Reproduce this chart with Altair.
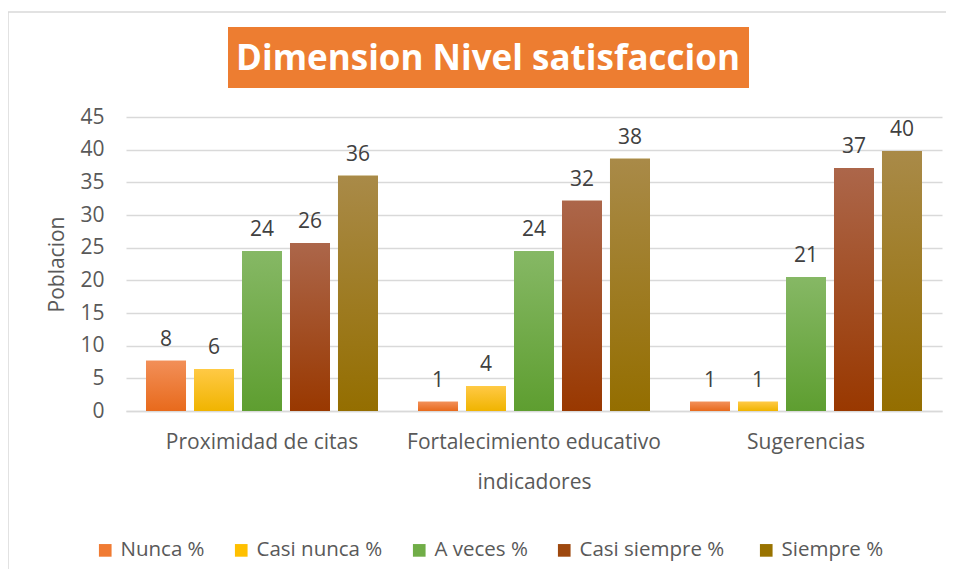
import altair as alt
import pandas as pd

groups = ["Proximidad de citas", "Fortalecimiento educativo", "Sugerencias"]
series = ["Nunca %", "Casi nunca %", "A veces %", "Casi siempre  %", "Siempre  %"]

nunca = [7.7, 1.4, 1.4]
casi_nunca = [6.4, 3.8, 1.4]
a_veces = [24.5, 24.5, 20.5]
casi_siempre = [25.7, 32.2, 37.2]
siempre = [36.0, 38.6, 39.8]

lbl_nunca = [8, 1, 1]
lbl_casi_nunca = [6, 4, 1]
lbl_a_veces = [24, 24, 21]
lbl_casi_siempre = [26, 32, 37]
lbl_siempre = [36, 38, 40]

solid = ["#F07B33", "#FFC000", "#70AD47", "#9E480E", "#997300"]
grad_top = ["#F28F58", "#FFC945", "#86B865", "#AC664A", "#A98A48"]
grad_bot = ["#E86A1C", "#F0B400", "#5E9E30", "#993800", "#946E00"]

vals = [nunca, casi_nunca, a_veces, casi_siempre, siempre]
lbls = [lbl_nunca, lbl_casi_nunca, lbl_a_veces, lbl_casi_siempre, lbl_siempre]

rows = []
for s, v, l in zip(series, vals, lbls):
    for g, vv, ll in zip(groups, v, l):
        rows.append({"grupo": g, "serie": s, "valor": vv, "etiqueta": str(ll)})
df = pd.DataFrame(rows)

FONT = "Open Sans"

x_enc = alt.X(
    "grupo:N",
    sort=groups,
    scale=alt.Scale(paddingInner=0, paddingOuter=0),
    axis=alt.Axis(
        title="indicadores",
        labelAngle=0,
        labelFontSize=21,
        labelColor="#595959",
        labelPadding=20,
        labelLimit=0,
        titleFontSize=21,
        titleFontWeight="normal",
        titleColor="#595959",
        titlePadding=19,
        ticks=False,
        domainColor="#d9d9d9",
        domainWidth=1.5,
        grid=False,
    ),
)
xo_enc = alt.XOffset(
    "serie:N",
    sort=series,
    scale=alt.Scale(domain=series, paddingInner=0.1667, paddingOuter=0.417),
)
y_enc = alt.Y(
    "valor:Q",
    scale=alt.Scale(domain=[0, 45], nice=False),
    axis=alt.Axis(
        title="Poblacion",
        values=[0, 5, 10, 15, 20, 25, 30, 35, 40, 45],
        labelFontSize=21,
        labelColor="#595959",
        labelPadding=22,
        titleFontSize=21,
        titleFontWeight="normal",
        titleColor="#595959",
        titlePadding=12,
        ticks=False,
        domain=False,
        grid=True,
        gridColor="#d9d9d9",
        gridWidth=1.3,
    ),
)

base = alt.Chart(df)

legend_layer = base.mark_bar().encode(
    x=x_enc,
    xOffset=xo_enc,
    y=y_enc,
    color=alt.Color(
        "serie:N",
        sort=series,
        scale=alt.Scale(domain=series, range=solid),
        legend=alt.Legend(
            title=None,
            orient="none",
            legendX=-31,
            legendY=423,
            direction="horizontal",
            symbolType="square",
            symbolSize=160,
            symbolStrokeWidth=0,
            labelFontSize=20.5,
            labelColor="#595959",
            labelOffset=5,
            labelLimit=0,
            columnPadding=26,
        ),
    ),
)

grad_layers = []
for s, t, b in zip(series, grad_top, grad_bot):
    grad_layers.append(
        base.transform_filter(alt.datum.serie == s)
        .mark_bar(
            color=alt.Gradient(
                gradient="linear",
                stops=[alt.GradientStop(color=t, offset=0), alt.GradientStop(color=b, offset=1)],
                x1=0, x2=0, y1=0, y2=1,
            )
        )
        .encode(x=x_enc, xOffset=xo_enc, y=y_enc)
    )

text_layer = base.mark_text(
    baseline="bottom", dy=-11, fontSize=21, color="#404040", font=FONT
).encode(x=x_enc, xOffset=xo_enc, y=y_enc, text="etiqueta:N")

one = alt.Data(values=[{"a": 1}])

border = alt.Chart(one).mark_rect(fill=None, stroke="#d9d9d9", strokeWidth=1.5).encode(
    x=alt.value(-118), x2=alt.value(900), y=alt.value(-105), y2=alt.value(520)
)
title_box = alt.Chart(one).mark_rect(color="#ED7D31").encode(
    x=alt.value(102), x2=alt.value(623), y=alt.value(-90), y2=alt.value(-29)
)
title_text = alt.Chart(one).mark_text(
    text="Dimension Nivel satisfaccion",
    font=FONT,
    fontSize=35,
    fontWeight="bold",
    color="white",
    align="center",
    baseline="middle",
).encode(x=alt.value(362), y=alt.value(-58))

chart = alt.layer(
    legend_layer, *grad_layers, text_layer, border, title_box, title_text
).properties(
    width=816,
    height=294,
    padding={"left": 118, "top": 109, "right": 4, "bottom": 158},
    autosize=alt.AutoSizeParams(type="none"),
).configure(
    font=FONT,
).configure_view(stroke=None)

chart.save("out.html", embed_options={"renderer": "svg", "actions": False})
